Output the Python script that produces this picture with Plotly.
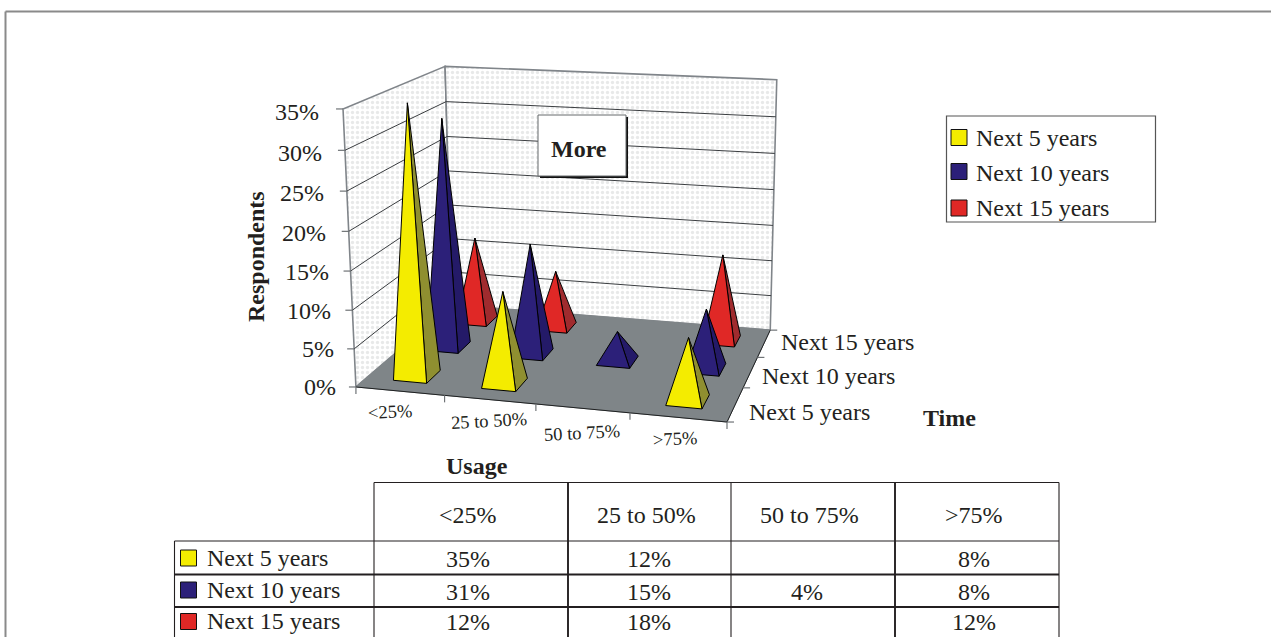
import numpy as np
import plotly.graph_objects as go

# ---------- data ----------
usage = ["<25%", "25 to 50%", "50 to 75%", ">75%"]
series = ["Next 5 years", "Next 10 years", "Next 15 years"]
next_5 = [35, 12, None, 8]
next_10 = [31, 15, 4, 8]
# the source draws the 25-50% red pyramid at about 8% although its table prints 18%
next_15_drawn = [12, 8, None, 12]
next_15_table = [12, 18, None, 12]
z_ticks = [0, 5, 10, 15, 20, 25, 30, 35]

# ---------- styles ----------
front_colors = ["#f4ec00", "#2c2079", "#e02826"]
side_colors = ["#8f8f30", "#241a68", "#a02b2e"]
FLOOR = "#7f8588"
INK = "#231f20"
FONT = "Liberation Serif"
FS = 24

# perspective camera: the plot box corners (u, d, z) and where they sit on the page
calib = [
    (0, 0, 0, 355, 386), (0, 0, 35, 344, 109),
    (0, 3, 0, 453, 306), (0, 3, 35, 444, 66),
    (4, 3, 0, 770, 329), (4, 3, 35, 777, 80),
    (4, 0, 0, 727, 423),
]
A = []
for u, d, z, px, py in calib:
    A.append([u, d, z, 1, 0, 0, 0, 0, -px*u, -px*d, -px*z, -px])
    A.append([0, 0, 0, 0, u, d, z, 1, -py*u, -py*d, -py*z, -py])
M = np.linalg.svd(np.array(A, float))[2][-1].reshape(3, 4)


def project(u, d, z=0):
    v = M @ np.array([u, d, z, 1.0])
    return v[0] / v[2], v[1] / v[2]


def poly(points):
    xy = [project(*p) for p in points]
    return [a for a, _ in xy], [b for _, b in xy]


fig = go.Figure()


def add_fill(points, color, line="black", width=1, pattern=None):
    xs, ys = poly(points)
    kw = dict(fillpattern=pattern) if pattern else {}
    fig.add_trace(go.Scatter(x=xs + xs[:1], y=ys + ys[:1], mode="lines", fill="toself",
                             fillcolor=color, line=dict(color=line, width=width),
                             hoverinfo="skip", showlegend=False, **kw))


def add_lines(segments, color, width=1):
    xs, ys = [], []
    for a, b in segments:
        ax, ay = project(*a) if len(a) == 3 else a
        bx, by = project(*b) if len(b) == 3 else b
        xs += [ax, bx, None]
        ys += [ay, by, None]
    fig.add_trace(go.Scatter(x=xs, y=ys, mode="lines", line=dict(color=color, width=width),
                             hoverinfo="skip", showlegend=False))


def label(x, y, text, size=FS, bold=False, anchor="center", angle=0):
    if anchor == "left":
        x -= 2
    fig.add_annotation(x=x, y=y, xref="x", yref="y", text=f"<b>{text}</b>" if bold else text,
                       showarrow=False, xanchor=anchor, yanchor="middle", textangle=angle,
                       font=dict(family=FONT, size=size, color=INK))


# page frame
add_lines([((5.5, 637), (5.5, 11.5)), ((5.5, 11.5), (1271, 11.5))], "#8a8a8a", 2)

# walls
stipple = dict(shape=".", size=5, solidity=0.35, fgcolor="#d2d3d3", bgcolor="#ffffff")
add_fill([(0, 0, 0), (0, 0, 35), (0, 3, 35), (0, 3, 0)], "#ffffff", "#80858a", 1.6, stipple)
add_fill([(0, 3, 0), (0, 3, 35), (4, 3, 35), (4, 3, 0)], "#ffffff", "#80858a", 1.6, stipple)
add_lines([((0, 0, z), (0, 3, z)) for z in z_ticks[1:-1]]
          + [((0, 3, z), (4, 3, z)) for z in z_ticks[1:-1]], "#3a3d40", 1)

# floor
add_fill([(0, 0, 0), (4, 0, 0), (4, 3, 0), (0, 3, 0)], FLOOR, FLOOR, 1)
add_lines([((0, 0, 0), (4, 0, 0)), ((4, 0, 0), (4, 3, 0))], "#1f2122", 1)

# ticks
add_lines([(project(0, 0, z), (project(0, 0, z)[0] - 7, project(0, 0, z)[1])) for z in z_ticks], "#6f7376", 1.2)
add_lines([(project(i, 0, 0), (project(i, 0, 0)[0], project(i, 0, 0)[1] + 7)) for i in range(5)], "#6f7376", 1.2)
add_lines([(project(4, j, 0), (project(4, j, 0)[0] + 7, project(4, j, 0)[1])) for j in range(4)], "#6f7376", 1.2)

# pyramids, back row first
HU, HD = 0.19, 0.21
drawn = [next_5, next_10, next_15_drawn]
for j in (2, 1, 0):
    for i, val in enumerate(drawn[j]):
        if val is None:
            continue
        cu, cd = i + 0.5, j + 0.5
        apex = (cu, cd, val)
        fl, fr, br = (cu - HU, cd - HD, 0), (cu + HU, cd - HD, 0), (cu + HU, cd + HD, 0)
        add_fill([fr, br, apex], side_colors[j])
        add_fill([fl, fr, apex], front_colors[j])

# axis labels
for z in z_ticks:
    px, py = project(0, 0, z)
    f = (35 - z) / 35
    label(px - 22 + 4 * f, py + 3 - 3 * f, f"{z}%", anchor="right")
usage_nudge = [(-10, 21), (-1, 21), (-1, 25), (-3, 22)]
for i, name in enumerate(usage):
    px, py = project(i + 0.5, 0, 0)
    label(px + usage_nudge[i][0], py + usage_nudge[i][1], name, size=18.5, angle=-3)
series_nudge = [(14, 8), (12, 4), (17, -1)]
for j, name in enumerate(series):
    px, py = project(4, j + 0.5, 0)
    label(px + series_nudge[j][0], py + series_nudge[j][1], name, anchor="left")

label(256, 257, "Respondents", bold=True, angle=-90)
label(477, 466, "Usage", bold=True)
label(949, 418, "Time", bold=True)

# "More" box
fig.add_shape(type="rect", x0=540, y0=117, x1=628, y1=178, fillcolor="#111111", line_width=0, xref="x", yref="y")
fig.add_shape(type="rect", x0=538, y0=115, x1=626, y1=176, fillcolor="white", line=dict(color="#666a6d", width=1), xref="x", yref="y")
label(579, 149, "More", bold=True)

# legend box
fig.add_shape(type="rect", x0=946.5, y0=116, x1=1155.5, y1=222, fillcolor="white", layer="below",
              line=dict(color="#555", width=1.2), xref="x", yref="y")


def swatches(x, ys, size=16):
    for y, c in zip(ys, front_colors):
        fig.add_trace(go.Scatter(x=[x], y=[y], mode="markers", hoverinfo="skip", showlegend=False,
                                 marker=dict(symbol="square", size=size, color=c, line=dict(color="#111", width=1))))


swatches(959, [137.5, 171.5, 208])
for y, name in zip([138, 173, 208], series):
    label(976, y, name, anchor="left")

# data table
add_lines([((x, 482.5), (x, 637)) for x in (374, 731, 1059)] + [((174.5, 541), (174.5, 637))]
          + [((374, 482.5), (1059, 482.5)), ((174.5, 541), (1059, 541))], "#231f20", 1.1)
add_lines([((x, 482.5), (x, 637)) for x in (568, 895)]
          + [((174.5, 574.5), (1059, 574.5)), ((174.5, 607), (1059, 607))], "#231f20", 1.9)
head_x = [468, 646, 809, 974]
cell_x = [468, 649, 807, 974]
for cx, name in zip(head_x, usage):
    label(cx, 515, name)
row_y = [559, 592, 622]
name_y = [558, 590, 621]
for y, ny, name, vals in zip(row_y, name_y, series, [next_5, next_10, next_15_table]):
    label(207, ny, name, anchor="left")
    for cx, v in zip(cell_x, vals):
        if v is not None:
            label(cx, y, f"{v}%")
swatches(188.5, [558, 590, 621.5])

fig.update_layout(width=1271, height=637, margin=dict(l=0, r=0, t=0, b=0),
                  paper_bgcolor="white", plot_bgcolor="white", showlegend=False,
                  xaxis=dict(range=[0, 1271], visible=False, fixedrange=True),
                  yaxis=dict(range=[637, 0], visible=False, fixedrange=True))
fig.write_html("out.html", config=dict(displayModeBar=False),
               post_script="document.body.style.margin='0';document.documentElement.style.overflow='hidden';")
